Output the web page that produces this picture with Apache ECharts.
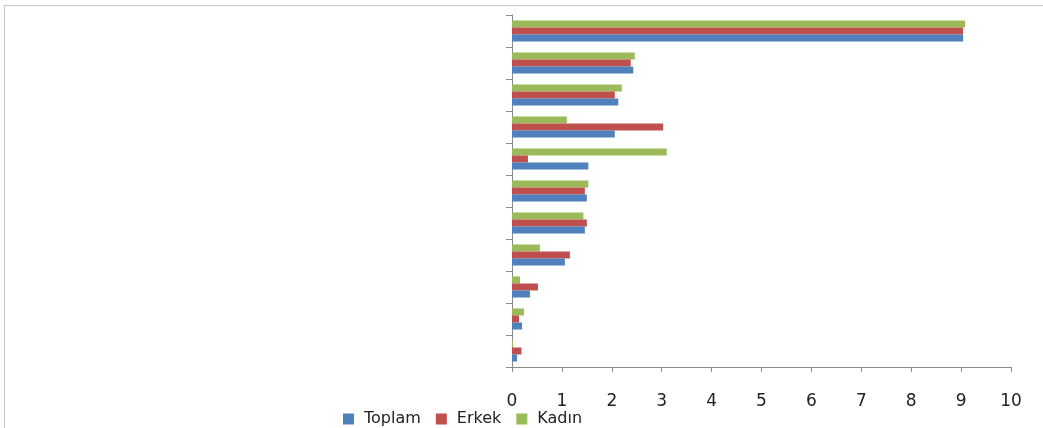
<!DOCTYPE html>
<html>
<head>
<meta charset="utf-8">
<script src="https://cdn.jsdelivr.net/npm/echarts@6/dist/echarts.min.js"></script>
<style>
  html,body{margin:0;padding:0;background:#fff;}
  #wrap{position:relative;width:1043px;height:428px;}
  #frame{position:absolute;left:4px;top:5px;right:0;bottom:0;border-left:1px solid #c6c6c6;border-top:1px solid #c6c6c6;}
  #chart{position:absolute;left:0;top:0;width:1043px;height:428px;}
</style>
</head>
<body>
<div id="wrap">
  <div id="frame"></div>
  <div id="chart"></div>
</div>
<script>
// kategoriler (üstten alta), etiketler görünmüyor
var kategoriler=["1","2","3","4","5","6","7","8","9","10","11"];
var toplam=[9.04,2.43,2.13,2.06,1.53,1.5,1.46,1.06,0.36,0.2,0.1];
var erkek=[9.04,2.38,2.06,3.03,0.32,1.46,1.5,1.16,0.52,0.14,0.19];
var kadin=[9.08,2.46,2.2,1.1,3.1,1.53,1.43,0.56,0.16,0.24,0.02];
var xTicks=[0,1,2,3,4,5,6,7,8,9,10];

var chart=echarts.init(document.getElementById("chart"));
chart.setOption({
  animation:false,
  textStyle:{fontFamily:'DejaVu Sans'},
  legend:{
    data:['Toplam','Erkek','Kadın'],
    left:338,
    top:406,
    icon:'rect',
    itemWidth:11,
    itemHeight:11,
    itemGap:15,
    textStyle:{fontSize:16,color:'#222',fontFamily:'DejaVu Sans',padding:[0,0,0,5]}
  },
  grid:{left:512,right:32,top:15,bottom:61},
  xAxis:{
    type:'value',
    min:xTicks[0],
    max:xTicks[xTicks.length-1],
    interval:1,
    splitLine:{show:false},
    axisLine:{show:true,lineStyle:{color:'#8c8c8c'}},
    axisTick:{show:true,length:5,lineStyle:{color:'#8c8c8c'}},
    axisLabel:{fontSize:17,color:'#222',margin:26}
  },
  yAxis:{
    type:'category',
    data:kategoriler,
    inverse:true,
    axisLine:{show:true,lineStyle:{color:'#8c8c8c'}},
    axisTick:{show:true,length:6,lineStyle:{color:'#8c8c8c'}},
    axisLabel:{show:false}
  },
  // ters eksende ilk seri üstte: Kadın üstte, Toplam altta
  series:[
    {name:'Kadın',type:'bar',data:kadin,barWidth:7,barGap:'0%',itemStyle:{color:'#9BBB59'}},
    {name:'Erkek',type:'bar',data:erkek,barWidth:7,barGap:'0%',itemStyle:{color:'#C0504D'}},
    {name:'Toplam',type:'bar',data:toplam,barWidth:7,barGap:'0%',itemStyle:{color:'#4F81BD'}}
  ]
});
</script>
</body>
</html>
